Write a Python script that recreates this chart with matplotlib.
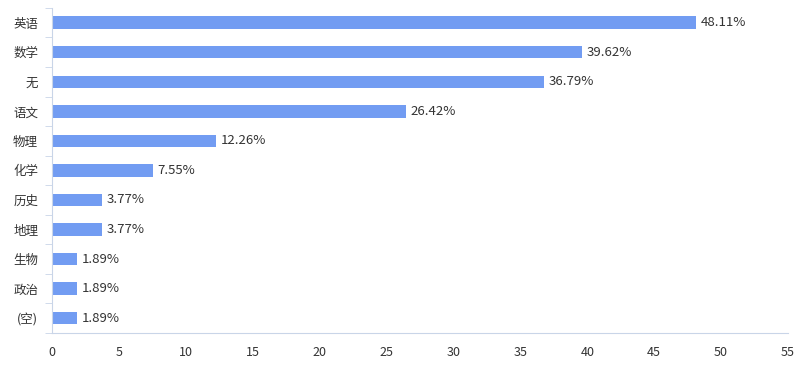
import matplotlib
matplotlib.use('Agg')
import matplotlib.pyplot as plt
import numpy as np

plt.rcParams['font.family'] = ['Noto Sans CJK SC', 'DejaVu Sans']

# data (top to bottom)
subjects = ['英语', '数学', '无', '语文', '物理', '化学', '历史', '地理', '生物', '政治', '(空)']
percent = [48.11, 39.62, 36.79, 26.42, 12.26, 7.55, 3.77, 3.77, 1.89, 1.89, 1.89]
xticks = [0, 5, 10, 15, 20, 25, 30, 35, 40, 45, 50, 55]

axis_col = '#c9d5e8'
text_col = '#333333'

fig = plt.figure(figsize=(8, 3.75), dpi=100)
ax = fig.add_axes([0.065, 0.112, 0.92, 0.867])

n = len(subjects)
ypos = np.arange(n)
ax.barh(ypos, percent, height=0.42, color='#729cf2')
for y, v in zip(ypos, percent):
    ax.text(v + 0.35, y, f'{v:.2f}%', va='center', ha='left', fontsize=9.5, color=text_col)

ax.set_xlim(0, 55)
ax.set_ylim(n - 0.5, -0.5)
ax.set_xticks(xticks)
ax.set_yticks(ypos)
ax.set_yticklabels(subjects)
ax.set_yticks(np.arange(-0.5, n, 1), minor=True)

for s in ['top', 'right']:
    ax.spines[s].set_visible(False)
ax.spines['left'].set_color(axis_col)
ax.spines['bottom'].set_color(axis_col)
ax.tick_params(axis='x', length=0, pad=9, labelsize=9, labelcolor=text_col)
ax.tick_params(axis='y', which='major', length=0, pad=10, labelsize=9, labelcolor=text_col)
ax.tick_params(axis='y', which='minor', length=5, color=axis_col)

fig.savefig('out.png', dpi=100)
